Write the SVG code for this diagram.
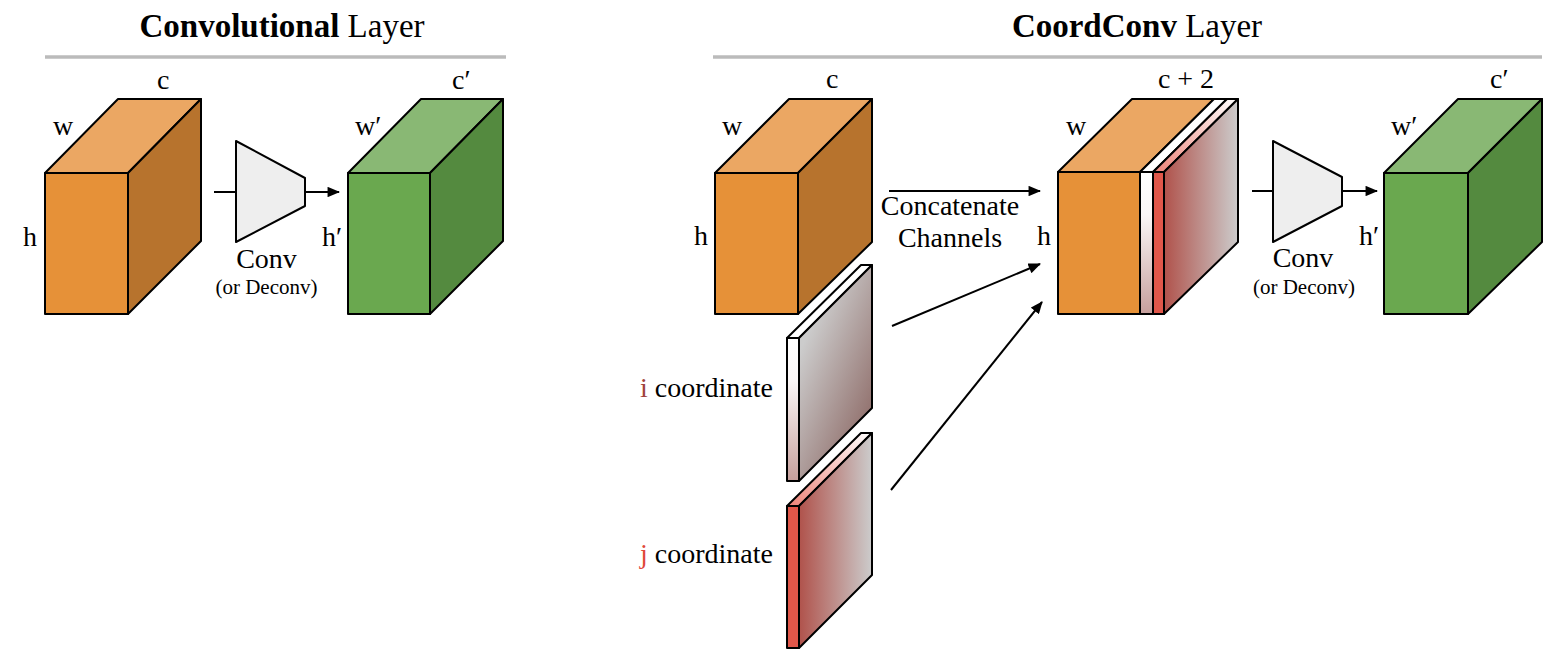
<svg xmlns="http://www.w3.org/2000/svg" width="1558" height="664" viewBox="0 0 1558 664" font-family="'Liberation Serif', 'Times New Roman', serif">
<style>
.t{font-family:"Liberation Serif","Times New Roman",serif;fill:#000}
.lbl{font-size:28px}
.sm{font-size:21px}
.ttl{font-size:33px}
.b{font-weight:bold}
.edge{stroke:#000;stroke-width:2;stroke-linejoin:round}
.rule{stroke:#bbbbbb;stroke-width:3.5}
.conn{stroke:#000;stroke-width:2;fill:none}
.of{fill:#e69138}.ot{fill:#eba763}.os{fill:#b7732d}
.gf{fill:#6aa84f}.gt{fill:#89b874}.gs{fill:#548a3f}
.trap{fill:#eeeeee}
</style>
<defs>
<marker id="ah" viewBox="0 0 12 10" refX="11" refY="5" markerWidth="6.5" markerHeight="5.2" markerUnits="strokeWidth" orient="auto">
<path d="M0,0 L12,5 L0,10 z" fill="#000"/>
</marker>
<linearGradient id="whiteFront" x1="0" y1="0" x2="0" y2="1">
<stop offset="0" stop-color="#ffffff"/><stop offset="0.3" stop-color="#fbf7f7"/><stop offset="1" stop-color="#c69f9c"/>
</linearGradient>
<linearGradient id="iSide" x1="0.2" y1="0.25" x2="0.8" y2="1">
<stop offset="0" stop-color="#cccccc"/><stop offset="1" stop-color="#8a6561"/>
</linearGradient>
<linearGradient id="jSide" x1="0" y1="0" x2="1" y2="0">
<stop offset="0" stop-color="#b0524b"/><stop offset="1" stop-color="#cccccc"/>
</linearGradient>
<linearGradient id="jTop" x1="0" y1="1" x2="1" y2="0">
<stop offset="0" stop-color="#ec8378"/><stop offset="1" stop-color="#ffffff"/>
</linearGradient>
</defs>

<g id="title-conv">
<text class="t ttl" x="282" y="37" text-anchor="middle"><tspan class="b">Convolutional</tspan> Layer</text>
<line class="rule" x1="45" y1="57" x2="506" y2="57"/>
</g>
<g id="title-coordconv">
<text class="t ttl" x="1137" y="37" text-anchor="middle"><tspan class="b">CoordConv</tspan> Layer</text>
<line class="rule" x1="713" y1="57" x2="1542" y2="57"/>
</g>

<g id="conv-input">
<polygon class="ot edge" points="45,173 128,173 201,99 118,99"/>
<polygon class="os edge" points="128,173 201,99 201,241 128,314"/>
<rect class="of edge" x="45" y="173" width="83" height="141"/>
<text class="t lbl" x="157" y="89">c</text>
<text class="t lbl" x="53" y="135">w</text>
<text class="t lbl" x="23" y="246">h</text>
</g>

<g id="conv-op">
<polygon class="trap edge" points="236,141 305,178 305,206 236,242"/>
<text class="t lbl" x="266.5" y="268" text-anchor="middle">Conv</text>
<text class="t sm" x="266.5" y="294" text-anchor="middle">(or Deconv)</text>
</g>

<g id="conv-output">
<polygon class="gt edge" points="348,173 430,173 503,99 421,99"/>
<polygon class="gs edge" points="430,173 503,99 503,241 430,314"/>
<rect class="gf edge" x="348" y="173" width="82" height="141"/>
<text class="t lbl" x="452" y="89">c′</text>
<text class="t lbl" x="355" y="135">w′</text>
<text class="t lbl" x="322" y="246">h′</text>
</g>

<g id="cc-input">
<polygon class="ot edge" points="715,173 798,173 872,99 789,99"/>
<polygon class="os edge" points="798,173 872,99 872,242 798,314"/>
<rect class="of edge" x="715" y="173" width="83" height="141"/>
<text class="t lbl" x="826" y="88">c</text>
<text class="t lbl" x="722" y="135">w</text>
<text class="t lbl" x="694" y="245">h</text>
</g>

<g id="i-coordinate">
<polygon class="edge" fill="#ffffff" points="787,338 799,338 872,265 861,265"/>
<polygon class="edge" fill="url(#iSide)" points="799,338 872,265 872,408 799,481"/>
<rect class="edge" fill="url(#whiteFront)" x="787" y="338" width="12" height="143"/>
<text class="t lbl" x="773" y="397" text-anchor="end"><tspan fill="#a0433c">i</tspan> coordinate</text>
</g>

<g id="j-coordinate">
<polygon class="edge" fill="url(#jTop)" points="787,506 799,506 872,433 861,433"/>
<polygon class="edge" fill="url(#jSide)" points="799,506 872,433 872,575 799,648"/>
<rect class="edge" fill="#e0574a" x="787" y="506" width="12" height="142"/>
<text class="t lbl" x="773" y="563" text-anchor="end"><tspan fill="#e0483a">j</tspan> coordinate</text>
</g>

<g id="cc-concat">
<polygon class="ot edge" points="1058,172 1140,172 1214,99 1132,99"/>
<polygon class="edge" fill="#ffffff" points="1140,172 1153,172 1227,99 1214,99"/>
<polygon class="edge" fill="url(#jTop)" points="1153,172 1164,172 1238,99 1227,99"/>
<polygon class="edge" fill="url(#jSide)" points="1164,172 1238,99 1238,242 1164,314"/>
<rect class="of edge" x="1058" y="172" width="82" height="142"/>
<rect class="edge" fill="url(#whiteFront)" x="1140" y="172" width="13" height="142"/>
<rect class="edge" fill="#e0574a" x="1153" y="172" width="11" height="142"/>
<text class="t lbl" x="1186" y="88" text-anchor="middle">c + 2</text>
<text class="t lbl" x="1066" y="135">w</text>
<text class="t lbl" x="1037" y="245">h</text>
</g>

<g id="cc-op">
<polygon class="trap edge" points="1273,141 1342,177 1342,206 1273,242"/>
<text class="t lbl" x="1303" y="267" text-anchor="middle">Conv</text>
<text class="t sm" x="1304" y="294" text-anchor="middle">(or Deconv)</text>
</g>

<g id="cc-output">
<polygon class="gt edge" points="1384,173 1468,173 1542,99 1458,99"/>
<polygon class="gs edge" points="1468,173 1542,99 1542,242 1468,314"/>
<rect class="gf edge" x="1384" y="173" width="84" height="141"/>
<text class="t lbl" x="1490" y="88">c′</text>
<text class="t lbl" x="1391" y="135">w′</text>
<text class="t lbl" x="1359" y="245">h′</text>
</g>

<g id="connectors">
<line class="conn" x1="214" y1="192" x2="236" y2="192"/>
<line class="conn" x1="305" y1="192" x2="339" y2="192" marker-end="url(#ah)"/>
<line class="conn" x1="889" y1="191" x2="1040" y2="191" marker-end="url(#ah)"/>
<line class="conn" x1="892" y1="326" x2="1040" y2="264" marker-end="url(#ah)"/>
<line class="conn" x1="891" y1="490" x2="1042" y2="302" marker-end="url(#ah)"/>
<line class="conn" x1="1252" y1="191" x2="1273" y2="191"/>
<line class="conn" x1="1342" y1="191" x2="1377" y2="191" marker-end="url(#ah)"/>
</g>
<g id="concat-label">
<text class="t lbl" x="950" y="215" text-anchor="middle">Concatenate</text>
<text class="t lbl" x="950" y="247" text-anchor="middle">Channels</text>
</g>
</svg>
